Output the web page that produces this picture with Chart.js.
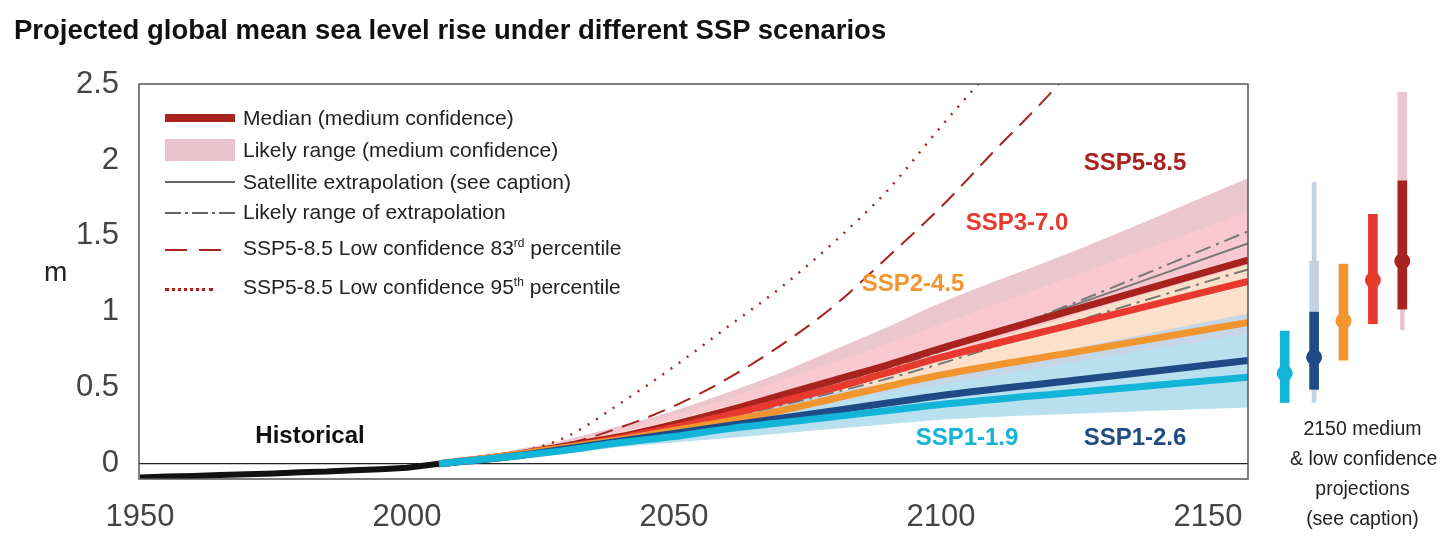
<!DOCTYPE html>
<html>
<head>
<meta charset="utf-8">
<script src="https://cdn.jsdelivr.net/npm/chart.js@4"></script>
<style>
  body { margin: 0; background: #fff; font-family: "Liberation Sans", sans-serif; }
  #wrap { position: relative; width: 1456px; height: 537px; overflow: hidden; }
  #main { position: absolute; left: 0; top: 0; }
  #side { position: absolute; left: 1262px; top: 84px; }
  .t { position: absolute; white-space: nowrap; }
  #title { left: 14px; top: 14px; font-size: 27.5px; font-weight: bold; color: #111; }
  #ylab { left: 44px; top: 256px; font-size: 28px; color: #222; }
  .leg { position: absolute; left: 243px; font-size: 21px; color: #222; line-height: 1; white-space: nowrap; }
  .sw { position: absolute; left: 165px; width: 70px; }
  .lab { position: absolute; font-size: 24px; font-weight: bold; transform: translate(-50%, -50%); white-space: nowrap; }
  #note { left: 1290px; top: 413px; width: 145px; text-align: center; font-size: 19.5px; color: #222; line-height: 30px; }
</style>
</head>
<body>
<div id="wrap">
  <canvas id="main" width="1456" height="537"></canvas>
  <canvas id="side" width="163" height="395"></canvas>
  <div class="t" id="title">Projected global mean sea level rise under different SSP scenarios</div>
  <div class="t" id="ylab">m</div>

  <div class="sw" style="top:114px;height:8px;background:#a8221e;"></div>
  <div class="leg" style="top:107px">Median (medium confidence)</div>
  <div class="sw" style="top:139px;height:22px;background:#e8c3cd;"></div>
  <div class="leg" style="top:139px">Likely range (medium confidence)</div>
  <div class="sw" style="top:181px;height:2px;background:#666;"></div>
  <div class="leg" style="top:171px">Satellite extrapolation (see caption)</div>
  <div class="sw" style="top:212px;height:2px;background:repeating-linear-gradient(90deg,#666 0 16px,#fff 16px 20px,#666 20px 23px,#fff 23px 27px);"></div>
  <div class="leg" style="top:201px">Likely range of extrapolation</div>
  <div class="sw" style="top:249px;height:2px;background:repeating-linear-gradient(90deg,#a8221e 0 22px,#fff 22px 34px);width:56px;"></div>
  <div class="leg" style="top:237px">SSP5-8.5 Low confidence 83<sup style="font-size:12px">rd</sup> percentile</div>
  <div class="sw" style="top:288px;height:0;border-top:3px dotted #a8221e;width:48px;"></div>
  <div class="leg" style="top:276px">SSP5-8.5 Low confidence 95<sup style="font-size:12px">th</sup> percentile</div>

  <div class="lab" style="left:1135px;top:162px;color:#a8221e">SSP5-8.5</div>
  <div class="lab" style="left:1017px;top:222px;color:#e8392f">SSP3-7.0</div>
  <div class="lab" style="left:913px;top:283px;color:#f1962f">SSP2-4.5</div>
  <div class="lab" style="left:967px;top:437px;color:#12b4d8">SSP1-1.9</div>
  <div class="lab" style="left:1135px;top:437px;color:#1f4a85">SSP1-2.6</div>
  <div class="lab" style="left:310px;top:435px;color:#111">Historical</div>

  <div class="t" id="note">2150 medium<br>&amp; low confidence<br>projections<br>(see caption)</div>
</div>
<script>
// historical record
const histYears = [1950, 1955, 1960, 1965, 1970, 1975, 1980, 1985, 1990, 1995, 2000, 2006];
const histVals = [-0.09, -0.083, -0.08, -0.074, -0.068, -0.063, -0.055, -0.051, -0.043, -0.036, -0.026, 0.0];

// projections: medians and likely ranges
const projYears = [2006, 2020, 2030, 2040, 2050, 2060, 2070, 2080, 2090, 2100, 2125, 2157.5];
const ssp119 = [0, 0.05, 0.09, 0.14, 0.18, 0.23, 0.27, 0.31, 0.35, 0.39, 0.47, 0.57];
const ssp126 = [0, 0.05, 0.10, 0.15, 0.20, 0.25, 0.30, 0.35, 0.40, 0.45, 0.55, 0.68];
const ssp245 = [0, 0.06, 0.11, 0.16, 0.22, 0.28, 0.35, 0.43, 0.51, 0.585, 0.735, 0.93];
const ssp370 = [0, 0.06, 0.11, 0.17, 0.24, 0.32, 0.41, 0.50, 0.60, 0.70, 0.92, 1.20];
const ssp585 = [0, 0.06, 0.12, 0.18, 0.26, 0.35, 0.45, 0.55, 0.65, 0.76, 1.015, 1.34];
const hi119 = [0, 0.07, 0.12, 0.18, 0.24, 0.30, 0.36, 0.41, 0.47, 0.52, 0.67, 0.86];
const lo119 = [0, 0.04, 0.07, 0.11, 0.14, 0.17, 0.20, 0.23, 0.26, 0.29, 0.33, 0.37];
const hi126 = [0, 0.07, 0.13, 0.20, 0.27, 0.34, 0.41, 0.47, 0.53, 0.58, 0.76, 0.99];
const lo126 = [0, 0.04, 0.08, 0.12, 0.16, 0.20, 0.23, 0.26, 0.30, 0.33, 0.39, 0.46];
const hi245 = [0, 0.08, 0.14, 0.21, 0.29, 0.38, 0.47, 0.56, 0.64, 0.72, 0.98, 1.31];
const lo245 = [0, 0.05, 0.09, 0.13, 0.17, 0.22, 0.27, 0.31, 0.36, 0.40, 0.51, 0.66];
const hi370 = [0, 0.08, 0.15, 0.23, 0.32, 0.43, 0.55, 0.67, 0.79, 0.92, 1.24, 1.66];
const lo370 = [0, 0.05, 0.09, 0.14, 0.19, 0.25, 0.31, 0.38, 0.45, 0.52, 0.69, 0.91];
const hi585 = [0, 0.09, 0.16, 0.25, 0.35, 0.47, 0.60, 0.75, 0.90, 1.06, 1.40, 1.88];
const lo585 = [0, 0.05, 0.09, 0.15, 0.21, 0.27, 0.34, 0.42, 0.50, 0.58, 0.77, 1.01];

// satellite extrapolation
const satYears = [2020, 2050, 2080, 2100, 2117, 2157.5];
const satMid = [0.06, 0.25, 0.53, 0.76, 0.95, 1.45];
const satHi = [0.06, 0.26, 0.53, 0.74, 0.95, 1.53];
const satLo = [0.06, 0.23, 0.47, 0.66, 0.85, 1.28];

// low confidence SSP5-8.5
const lowYears = [2020, 2030, 2040, 2050, 2060, 2070, 2080, 2090, 2100, 2110, 2120, 2125];
const p83 = [0.06, 0.13, 0.24, 0.38, 0.56, 0.78, 1.04, 1.36, 1.69, 2.06, 2.42, 2.62];
const p95Years = [2020, 2030, 2040, 2050, 2060, 2070, 2080, 2090, 2100, 2110];
const p95 = [0.06, 0.18, 0.40, 0.64, 0.90, 1.16, 1.46, 1.80, 2.22, 2.62];

// 2150 side panel
const sideLabels = ["SSP1-1.9", "SSP1-2.6", "SSP2-4.5", "SSP3-7.0", "SSP5-8.5"];
const sideMedian = [0.57, 0.68, 0.93, 1.21, 1.34];
const sideLikely = [[0.37, 0.86], [0.46, 0.99], [0.66, 1.32], [0.91, 1.66], [1.01, 1.89]];
const sideLowThin = [null, [0.37, 1.88], null, null, [0.87, 2.5]];
const sideLowWide = [null, [0.99, 1.34], null, null, [1.89, 2.5]];

const C = { c119: "#12b4d8", c126: "#1f4a85", c245: "#f1962f", c370: "#e8392f", c585: "#a8221e" };
const FONT = "'Liberation Sans', sans-serif";

const pts = (xs, ys) => xs.map((x, i) => ({ x: x, y: ys[i] }));
const line = (xs, ys, color, width, extra) => Object.assign({
  data: pts(xs, ys), borderColor: color, borderWidth: width, pointRadius: 0, fill: false,
  cubicInterpolationMode: "monotone"
}, extra || {});
const band = (hi, lo, color) => [
  { data: pts(projYears, hi), borderWidth: 0, pointRadius: 0, backgroundColor: color, fill: "+1", cubicInterpolationMode: "monotone" },
  { data: pts(projYears, lo), borderWidth: 0, pointRadius: 0, fill: false, cubicInterpolationMode: "monotone" }
];

// first dataset is drawn on top
const datasets = [
  line(projYears, ssp119, C.c119, 7),
  line(projYears, ssp126, C.c126, 7),
  line(projYears, ssp245, C.c245, 7),
  line(projYears, ssp370, C.c370, 7),
  line(projYears, ssp585, C.c585, 7),
  line(histYears, histVals, "#111", 6, { cubicInterpolationMode: "default", tension: 0 }),
  line(lowYears, p83, C.c585, 2, { borderDash: [18, 10] }),
  line(p95Years, p95, C.c585, 2.5, { borderDash: [2, 8] }),
  line(satYears, satMid, "#777", 2),
  line(satYears, satHi, "#777", 2, { borderDash: [16, 6, 3, 6] }),
  line(satYears, satLo, "#777", 2, { borderDash: [16, 6, 3, 6] }),
  ...band(hi119, lo119, "#b8e0ee"),
  ...band(hi126, lo126, "#c6d6e6"),
  ...band(hi245, lo245, "#fbe1cb"),
  ...band(hi370, lo370, "#f8c9d0"),
  ...band(hi585, lo585, "#ebc6cf")
];

const boxPlugin = {
  id: "box",
  afterDraw(chart) {
    const a = chart.chartArea, ctx = chart.ctx;
    ctx.save();
    ctx.strokeStyle = "#555";
    ctx.lineWidth = 1.5;
    ctx.strokeRect(a.left, a.top, a.right - a.left, a.bottom - a.top);
    ctx.restore();
  }
};

new Chart(document.getElementById("main"), {
  type: "line",
  data: { datasets: datasets },
  plugins: [boxPlugin],
  options: {
    responsive: false,
    animation: false,
    layout: { padding: { left: 0, right: 208, top: 84, bottom: 0 } },
    plugins: { legend: { display: false }, tooltip: { enabled: false } },
    scales: {
      x: {
        type: "linear", min: 1949.8, max: 2157.5,
        afterBuildTicks: s => { s.ticks = [1950, 2000, 2050, 2100, 2150].map(v => ({ value: v })); },
        afterFit: s => { s.height = 58; },
        grid: { display: false },
        border: { display: false },
        ticks: { color: "#444", font: { family: FONT, size: 31 }, padding: 12, callback: v => String(v) }
      },
      y: {
        min: -0.1, max: 2.5,
        afterBuildTicks: s => { s.ticks = [0, 0.5, 1, 1.5, 2, 2.5].map(v => ({ value: v })); },
        afterFit: s => { s.width = 139; },
        grid: { drawTicks: false, color: c => c.tick && c.tick.value === 0 ? "#222" : "rgba(0,0,0,0)", lineWidth: 1.2 },
        border: { display: false },
        ticks: { color: "#444", font: { family: FONT, size: 31 }, padding: 20, callback: v => String(v) }
      }
    }
  }
});

new Chart(document.getElementById("side"), {
  type: "bar",
  data: {
    labels: sideLabels,
    datasets: [
      { type: "line", data: sideMedian, showLine: false, pointRadius: 8, pointBorderWidth: 0,
        pointBackgroundColor: [C.c119, C.c126, C.c245, C.c370, C.c585] },
      { data: sideLikely, barThickness: 9, grouped: false,
        backgroundColor: [C.c119, C.c126, C.c245, C.c370, C.c585] },
      { data: sideLowWide, barThickness: 9, grouped: false,
        backgroundColor: ["#000", "#c3d3e3", "#000", "#000", "#ebc6d0"] },
      { data: sideLowThin, barThickness: 4, grouped: false,
        backgroundColor: ["#000", "#c3d3e3", "#000", "#000", "#ebc6d0"] }
    ]
  },
  options: {
    responsive: false,
    animation: false,
    layout: { padding: 0 },
    plugins: { legend: { display: false }, tooltip: { enabled: false } },
    scales: {
      x: { display: false },
      y: { display: false, min: -0.1, max: 2.5 }
    }
  }
});
</script>
</body>
</html>
